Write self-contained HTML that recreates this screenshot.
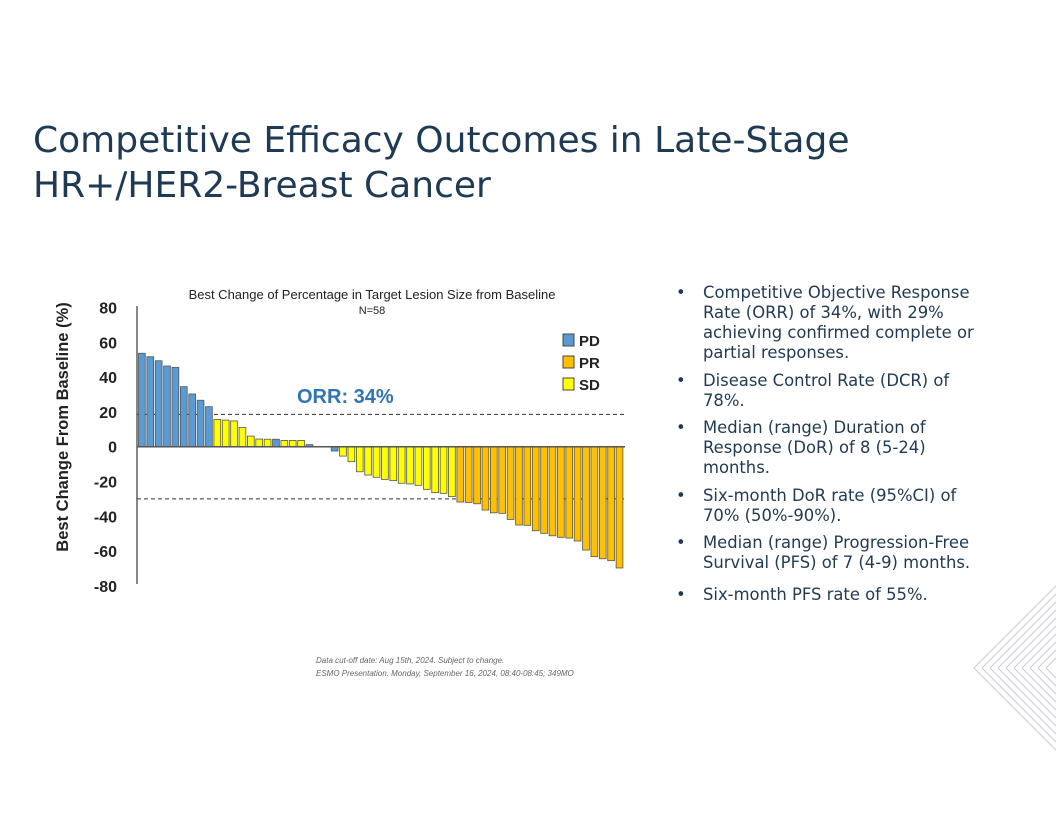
<!DOCTYPE html>
<html><head><meta charset="utf-8"><style>
body{margin:0;width:1056px;height:816px;background:#fff;position:relative;overflow:hidden;font-family:"Liberation Sans",sans-serif}
.t{position:absolute}
h1{position:absolute;left:33px;top:118px;margin:0;font-weight:normal;font-family:"DejaVu Sans",sans-serif;font-size:36px;line-height:45px;color:#1f3a55;white-space:nowrap}
ul{position:absolute;left:676px;top:283px;margin:0;padding:0;list-style:none;width:306px;color:#1f3a55;font-family:"DejaVu Sans",sans-serif;font-size:16.4px;line-height:20px}
li{position:relative;padding-left:27px;margin-bottom:7.5px}
li:last-child{margin-top:12px}
li:before{content:"•";position:absolute;left:0}
</style></head><body>
<h1>Competitive Efficacy Outcomes in Late-Stage<br>HR+/HER2-Breast Cancer</h1>
<ul>
<li>Competitive Objective Response Rate (ORR) of 34%, with 29% achieving confirmed complete or partial responses.</li>
<li>Disease Control Rate (DCR) of 78%.</li>
<li>Median (range) Duration of Response (DoR) of 8 (5-24) months.</li>
<li>Six-month DoR rate (95%CI) of 70% (50%-90%).</li>
<li>Median (range) Progression-Free Survival (PFS) of 7 (4-9) months.</li>
<li>Six-month PFS rate of 55%.</li>
</ul>
<div class="t" style="left:316px;top:654px;font-size:8px;font-style:italic;color:#666;line-height:13px">Data cut-off date: Aug 15th, 2024. Subject to change.<br>ESMO Presentation. Monday, September 16, 2024, 08:40-08:45; 349MO</div>
<svg id="chart" width="1056" height="816" style="position:absolute;left:0;top:0">
<text x="372" y="299" text-anchor="middle" font-size="13" fill="#222">Best Change of Percentage in Target Lesion Size from Baseline</text>
<text x="372" y="314" text-anchor="middle" font-size="11" fill="#222">N=58</text>
<text transform="translate(68,427) rotate(-90)" text-anchor="middle" font-size="16.5" font-weight="bold" fill="#222">Best Change  From Baseline (%)</text>
<text x="297" y="403" font-size="20" font-weight="bold" fill="#2e75b6">ORR: 34%</text>
<g id="ticks"></g><g id="bars"></g>
<g font-size="15" font-weight="bold" fill="#222">
<rect x="563" y="334" width="11" height="12" fill="#5b9bd5" stroke="#444"/><text x="579" y="346">PD</text>
<rect x="563" y="356" width="11" height="12" fill="#ffc000" stroke="#444"/><text x="579" y="368">PR</text>
<rect x="563" y="378" width="11" height="12" fill="#ffff00" stroke="#444"/><text x="579" y="390">SD</text>
</g>
<g fill="none" stroke="#c8ccd0" stroke-width="1" id="deco"></g>
</svg>
<script>
const values=[53.7,51.7,49.4,46.4,45.6,34.5,30.3,26.7,23,15.7,15.3,14.8,11.1,6.1,4.4,4.3,4.3,3.6,3.6,3.6,1.2,0,0,-2.5,-5.4,-8.6,-14.4,-16.3,-17.6,-18.8,-19.5,-21,-21.4,-22.2,-24.5,-26.4,-26.8,-28.7,-31.8,-32,-32.8,-36.4,-38,-38.3,-41.8,-45,-45.2,-48.3,-49.8,-51.2,-52.1,-52.5,-54.2,-59.4,-63.2,-64.4,-65.5,-69.7];
const response=["PD","PD","PD","PD","PD","PD","PD","PD","PD","SD","SD","SD","SD","SD","SD","SD","PD","SD","SD","SD","PD","PD","PD","PD","SD","SD","SD","SD","SD","SD","SD","SD","SD","SD","SD","SD","SD","SD","PR","PR","PR","PR","PR","PR","PR","PR","PR","PR","PR","PR","PR","PR","PR","PR","PR","PR","PR","PR"];
const yTicks=[80,60,40,20,0,-20,-40,-60,-80];
const refLines=[18.6,-30];
const NS="http://www.w3.org/2000/svg";
const y=v=>446.7-v*1.74;
const x0=138,step=486/values.length;
const x=i=>x0+i*step;
const col={PD:"#5b9bd5",PR:"#ffc000",SD:"#ffff00"};
const tk=document.getElementById('ticks'),bg=document.getElementById('bars');
function mk(tag,a,p){const e=document.createElementNS(NS,tag);for(const k in a)e.setAttribute(k,a[k]);p.appendChild(e);return e;}
yTicks.forEach(t=>{const e=mk('text',{x:117,y:y(t)+6,'text-anchor':'end','font-size':16,'font-weight':'bold',fill:'#222'},tk);


e.textContent=t;});
const ax=mk('line',{x1:137,x2:137,y1:306,y2:584,stroke:'#888','stroke-width':2},tk);


refLines.forEach(r=>{const l=mk('line',{x1:137,x2:625,y1:y(r),y2:y(r),stroke:'#333','stroke-dasharray':'4,3','stroke-width':1},tk);

});
values.forEach((v,i)=>{const top=Math.min(y(v),y(0)),h=Math.abs(y(v)-y(0));
const r=mk('rect',{x:x(i)+0.5,y:top,width:step-1.6,height:Math.max(h,0),fill:col[response[i]],stroke:'#555','stroke-width':0.8},bg);

});
const zl=mk('line',{x1:137,x2:625,y1:y(0),y2:y(0),stroke:'#555','stroke-width':1.5},bg);


const d=document.getElementById('deco');
for(let k=0;k<10;k++){const px=974+k*8,dd=1060-px;mk('polyline',{points:`1060,${668-dd} ${px},668 1060,${668+dd}`},d);}
</script>
</body></html>
